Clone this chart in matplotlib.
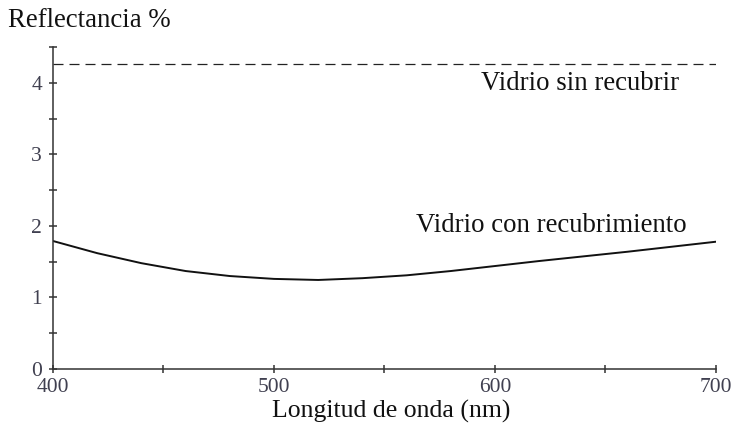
import numpy as np
import matplotlib
matplotlib.use('Agg')
import matplotlib.pyplot as plt
from matplotlib.ticker import MultipleLocator

# reflectance of coated glass vs wavelength
wavelength = [400, 420, 440, 460, 480, 500, 520, 540, 560, 580, 600, 620, 640, 660, 680, 700]
coated = [1.79, 1.62, 1.48, 1.37, 1.30, 1.26, 1.245, 1.27, 1.31, 1.37, 1.44, 1.51, 1.575, 1.64, 1.71, 1.78]
# plain glass level
uncoated = 4.27

plt.rcParams['font.family'] = ['Liberation Serif', 'DejaVu Serif']

fig = plt.figure(figsize=(7.35, 4.28), dpi=100)
ax = fig.add_axes([0.0721, 0.1379, 0.902, 0.7517])

ax.plot(wavelength, coated, color='#111111', lw=1.4)
ax.axhline(uncoated, color='#222222', lw=0.9, linestyle=(0, (8, 4.8)))

ax.set_xlim(400, 700)
ax.set_ylim(0, 4.5)
ax.xaxis.set_major_locator(MultipleLocator(100))
ax.xaxis.set_minor_locator(MultipleLocator(50))
ax.yaxis.set_major_locator(MultipleLocator(1))
ax.yaxis.set_minor_locator(MultipleLocator(0.5))

for side in ['top', 'right']:
    ax.spines[side].set_visible(False)
for side in ['left', 'bottom']:
    ax.spines[side].set_color('#333333')
    ax.spines[side].set_linewidth(1.1)

ax.tick_params(which='both', direction='inout', color='#333333', width=1.1,
               length=6, labelsize=15.5, labelcolor='#404050')
ax.tick_params(axis='x', pad=3.5)
ax.tick_params(axis='y', pad=5)

ax.set_xlabel('Longitud de onda (nm)', fontsize=18.5, color='#111111')
ax.xaxis.label.set_va('center')
ax.xaxis.set_label_coords(0.51, -0.132)

fig.text(0.011, 0.953, 'Reflectancia %', fontsize=19.3, color='#111111', va='center')

ax.text(638.5, 3.99, 'Vidrio sin recubrir', fontsize=19.3, color='#111111', ha='center', va='center')
ax.text(625.3, 2.01, 'Vidrio con recubrimiento', fontsize=19.3, color='#111111', ha='center', va='center')

fig.savefig('out.png', dpi=100)
